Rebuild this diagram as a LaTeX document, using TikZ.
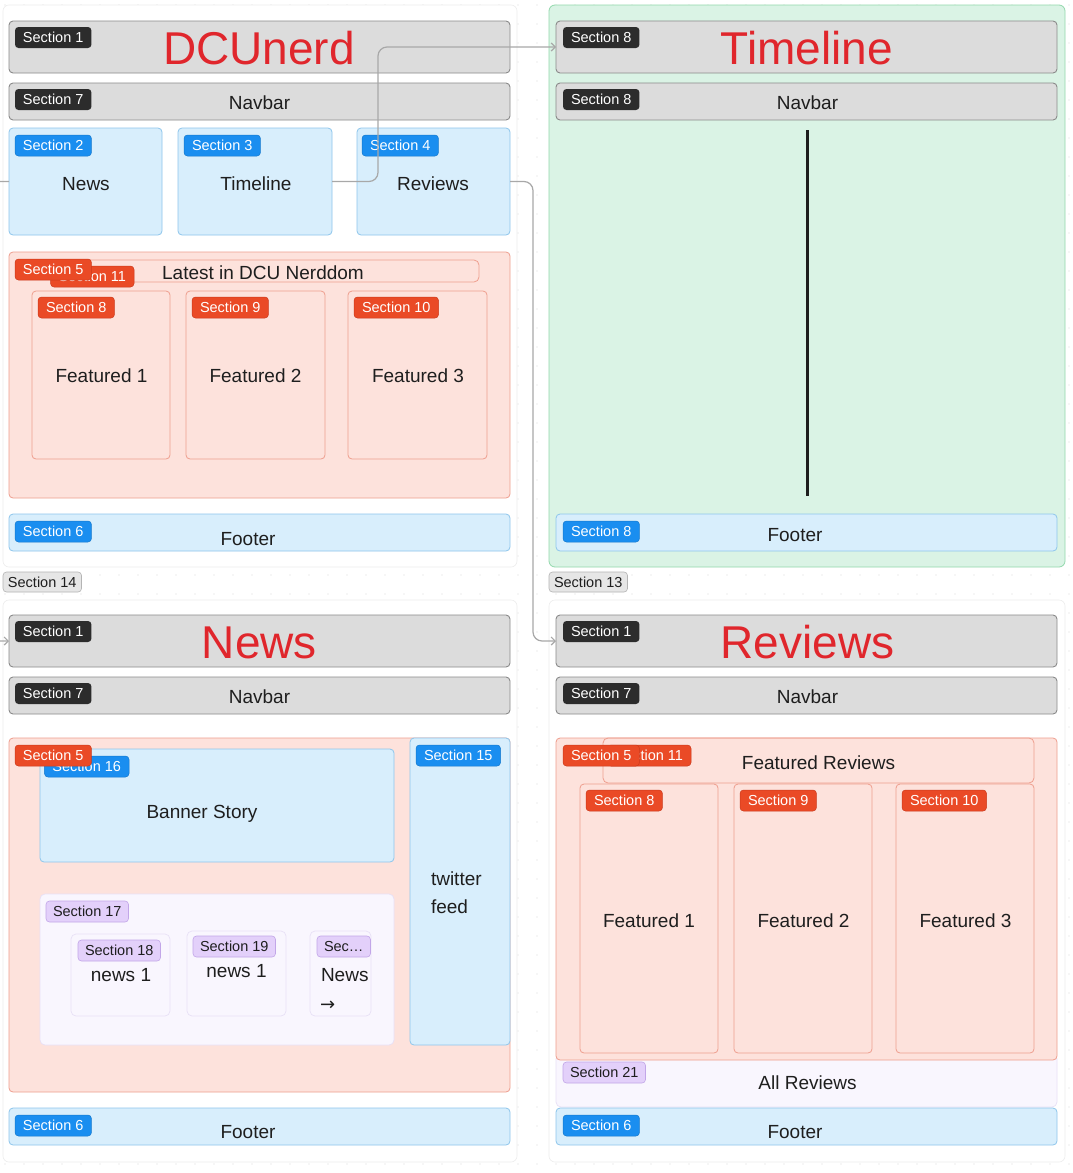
\documentclass[tikz,border=0pt]{standalone}
\usepackage{fontspec}
\setmainfont{Liberation Sans}
\newfontfamily\symfont{DejaVu Sans}
\usetikzlibrary{arrows.meta}
\definecolor{txt}{HTML}{1E1E1E}
\definecolor{ttl}{HTML}{E0262C}
\definecolor{hdrF}{HTML}{DCDCDC}
\definecolor{hdrB}{HTML}{8A8A8A}
\definecolor{tagD}{HTML}{2C2C2C}
\definecolor{bluF}{HTML}{D8EEFC}
\definecolor{bluB}{HTML}{8EC6EC}
\definecolor{tagBl}{HTML}{1A8EF0}
\definecolor{tagBlB}{HTML}{1578CC}
\definecolor{pnkF}{HTML}{FDE2DC}
\definecolor{pnkB}{HTML}{EE9E8E}
\definecolor{tagR}{HTML}{EA4A26}
\definecolor{tagRB}{HTML}{CC3A1C}
\definecolor{lavF}{HTML}{F9F6FE}
\definecolor{lavB}{HTML}{E8E0F6}
\definecolor{tagL}{HTML}{E3D0FA}
\definecolor{tagLB}{HTML}{C2A6E8}
\definecolor{grnF}{HTML}{DAF3E5}
\definecolor{grnB}{HTML}{92D8AC}
\definecolor{grayT}{HTML}{E6E6E6}
\definecolor{grayTB}{HTML}{B4B4B4}
\definecolor{pageB}{HTML}{EDEDED}
\definecolor{conG}{HTML}{A8A8A8}
\definecolor{dotC}{HTML}{DADADA}
\newcommand\bx[6]{\node[#2, anchor=north west, minimum width={(#5-#3)*1pt}, minimum height={(#6-#4)*1pt}] (#1) at (#3,#4) {};}
\begin{document}
\begin{tikzpicture}[x=1pt,y=-1pt,
  every node/.style={inner sep=0pt, outer sep=0pt},
  page/.style={draw=pageB, fill=white, rounded corners=6pt, line width=0.6pt},
  grnpage/.style={draw=grnB, fill=grnF, rounded corners=6pt, line width=0.8pt},
  hdr/.style={draw=hdrB, fill=hdrF, rounded corners=4pt, line width=0.9pt},
  bluebox/.style={draw=bluB, fill=bluF, rounded corners=4pt, line width=0.8pt},
  pinkbox/.style={draw=pnkB, fill=pnkF, rounded corners=4pt, line width=0.8pt},
  pinkline/.style={draw=pnkB, rounded corners=5pt, line width=0.8pt},
  lavbox/.style={draw=lavB, fill=lavF, rounded corners=5pt, line width=0.7pt},
  tag/.style={rounded corners=3.5pt, minimum height=21pt, inner xsep=8pt, font=\fontsize{14.5}{16}\selectfont},
  darktag/.style={tag, fill=tagD, text=white, anchor=north west},
  bluetag/.style={tag, fill=tagBl, draw=tagBlB, line width=0.5pt, text=white, anchor=north west},
  redtag/.style={tag, fill=tagR, draw=tagRB, line width=0.5pt, text=white, anchor=north west},
  lavtag/.style={tag, inner xsep=7pt, fill=tagL, draw=tagLB, line width=0.6pt, text=txt, anchor=north west},
  graytag/.style={tag, minimum height=20pt, inner xsep=5pt, fill=grayT, draw=grayTB, line width=0.6pt, text=txt, anchor=north west},
  lbl/.style={font=\fontsize{19}{22}\selectfont, text=txt, anchor=base},
  ttlbl/.style={font=\fontsize{46}{50}\selectfont, text=ttl, anchor=base},
  conn/.style={draw=conG, line width=1.2pt, rounded corners=9pt, -{Straight Barb[length=4pt,width=8pt]}}
]
\useasboundingbox (0,0) rectangle (1073,1173);
\fill[white] (0,0) rectangle (1073,1173);
% dot grid
\foreach \i in {0,...,56}{\foreach \j in {0,...,61}{\fill[dotC] (5+19*\i,5+19*\j) circle (0.6pt);}}

% ===== page frames =====
\bx{pgTL}{page}{3}{5}{517}{567}
\bx{pgTR}{grnpage}{549}{5}{1065}{567}
\bx{pgBL}{page}{3}{600}{517}{1162}
\bx{pgBR}{page}{549}{600}{1065}{1162}
\node[graytag] (tag14) at (3,572) {Section 14};
\node[graytag] (tag13) at (549,572) {Section 13};

% ===== top-left page: home =====
\bx{tlHead}{hdr}{9}{21}{510}{73}
\node[darktag] (tlHeadT) at (15,27) {Section 1};
\node[ttlbl] (tlTitle) at (259,64) {DCUnerd};
\bx{tlNav}{hdr}{9}{83}{510}{120}
\node[darktag] (tlNavT) at (15,89) {Section 7};
\node[lbl] (tlNavL) at (259.5,109) {Navbar};
\bx{tlNews}{bluebox}{9}{128}{162}{235}
\node[bluetag] (tlNewsT) at (15,135) {Section 2};
\node[lbl] (tlNewsL) at (86,190) {News};
\bx{tlTime}{bluebox}{178}{128}{332}{235}
\node[bluetag] (tlTimeT) at (184,135) {Section 3};
\node[lbl] (tlTimeL) at (256,190) {Timeline};
\bx{tlRev}{bluebox}{357}{128}{510}{235}
\node[bluetag] (tlRevT) at (362,135) {Section 4};
\node[lbl] (tlRevL) at (433,190) {Reviews};
\bx{tlMain}{pinkbox}{9}{252}{510}{498}
\bx{tlLatest}{pinkline}{53}{260}{479}{282}
\node[redtag, anchor=north east] (tlLatestT) at (134,266) {Section 11};
\node[redtag] (tlMainT) at (15,259) {Section 5};
\node[lbl] (tlLatestL) at (263,279) {Latest in DCU Nerddom};
\bx{tlF1}{pinkbox}{32}{291}{170}{459}
\node[redtag] (tlF1T) at (38,297) {Section 8};
\node[lbl] (tlF1L) at (101.5,382) {Featured 1};
\bx{tlF2}{pinkbox}{186}{291}{325}{459}
\node[redtag] (tlF2T) at (192,297) {Section 9};
\node[lbl] (tlF2L) at (255.5,382) {Featured 2};
\bx{tlF3}{pinkbox}{348}{291}{487}{459}
\node[redtag] (tlF3T) at (354,297) {Section 10};
\node[lbl] (tlF3L) at (418,382) {Featured 3};
\bx{tlFoot}{bluebox}{9}{514}{510}{551}
\node[bluetag] (tlFootT) at (15,521) {Section 6};
\node[lbl] (tlFootL) at (248,545) {Footer};

% ===== top-right page: timeline =====
\bx{trHead}{hdr}{556}{21}{1057}{73}
\node[darktag] (trHeadT) at (563,27) {Section 8};
\node[ttlbl] (trTitle) at (807,64) {Timeline};
\bx{trNav}{hdr}{556}{83}{1057}{120}
\node[darktag] (trNavT) at (563,89) {Section 8};
\node[lbl] (trNavL) at (807.5,109) {Navbar};
\draw[line width=3pt, txt] (807,130) -- (807,496);
\bx{trFoot}{bluebox}{556}{514}{1057}{551}
\node[bluetag] (trFootT) at (563,521) {Section 8};
\node[lbl] (trFootL) at (795,541) {Footer};

% ===== bottom-left page: news =====
\bx{blHead}{hdr}{9}{615}{510}{667}
\node[darktag] (blHeadT) at (15,621) {Section 1};
\node[ttlbl] (blTitle) at (259.5,658) {News};
\bx{blNav}{hdr}{9}{677}{510}{714}
\node[darktag] (blNavT) at (15,683) {Section 7};
\node[lbl] (blNavL) at (259.5,703) {Navbar};
\bx{blMain}{pinkbox}{9}{738}{510}{1092}
\bx{blBanner}{bluebox}{40}{749}{394}{862}
\node[bluetag, anchor=north east] (blBannerT) at (129,756) {Section 16};
\node[redtag] (blMainT) at (15,745) {Section 5};
\node[lbl] (blBannerL) at (202,818) {Banner Story};
\bx{blTwit}{bluebox}{410}{738}{510}{1045}
\node[bluetag] (blTwitT) at (416,745) {Section 15};
\node[font=\fontsize{19}{28}\selectfont, text=txt, anchor=base west] (blTwitL1) at (431,885) {twitter};
\node[font=\fontsize{19}{28}\selectfont, text=txt, anchor=base west] (blTwitL2) at (431,913) {feed};
\bx{blList}{lavbox}{40}{894}{394}{1045}
\node[lavtag] (blListT) at (46,901) {Section 17};
\bx{blN1}{lavbox}{71}{934}{170}{1016}
\node[lavtag] (blN1T) at (78,940) {Section 18};
\node[lbl] (blN1L) at (121,981) {news 1};
\bx{blN2}{lavbox}{187}{931}{286}{1016}
\node[lavtag] (blN2T) at (193,936) {Section 19};
\node[lbl] (blN2L) at (236.5,977.5) {news 1};
\bx{blN3}{lavbox}{310}{931}{371}{1016}
\node[lavtag] (blN3T) at (317,936) {Sec…};
\node[lbl, anchor=base west] (blN3L) at (321,981) {News};
\node[lbl, font=\symfont\fontsize{18}{22}\selectfont, anchor=base west] (blN3A) at (320,1010) {→};
\bx{blFoot}{bluebox}{9}{1108}{510}{1145}
\node[bluetag] (blFootT) at (15,1115) {Section 6};
\node[lbl] (blFootL) at (248,1138) {Footer};

% ===== bottom-right page: reviews =====
\bx{brHead}{hdr}{556}{615}{1057}{667}
\node[darktag] (brHeadT) at (563,621) {Section 1};
\node[ttlbl] (brTitle) at (807.5,658) {Reviews};
\bx{brNav}{hdr}{556}{677}{1057}{714}
\node[darktag] (brNavT) at (563,683) {Section 7};
\node[lbl] (brNavL) at (807.5,703) {Navbar};
\bx{brAll}{lavbox}{556}{1054}{1057}{1107}
\bx{brMain}{pinkbox}{556}{738}{1057}{1060}
\node[lavtag] (brAllT) at (563,1062) {Section 21};
\node[lbl] (brAllL) at (807.5,1089) {All Reviews};
\bx{brFR}{pinkline}{603}{738}{1034}{783}
\node[redtag, anchor=north east] (brFRT) at (691,745) {Section 11};
\node[redtag] (brMainT) at (563,745) {Section 5};
\node[lbl] (brFRL) at (818.5,769) {Featured Reviews};
\bx{brF1}{pinkbox}{580}{784}{718}{1053}
\node[redtag] (brF1T) at (586,790) {Section 8};
\node[lbl] (brF1L) at (649,927) {Featured 1};
\bx{brF2}{pinkbox}{734}{784}{872}{1053}
\node[redtag] (brF2T) at (740,790) {Section 9};
\node[lbl] (brF2L) at (803.5,927) {Featured 2};
\bx{brF3}{pinkbox}{896}{784}{1034}{1053}
\node[redtag] (brF3T) at (902,790) {Section 10};
\node[lbl] (brF3L) at (965.5,927) {Featured 3};
\bx{brFoot}{bluebox}{556}{1108}{1057}{1145}
\node[bluetag] (brFootT) at (563,1115) {Section 6};
\node[lbl] (brFootL) at (795,1138) {Footer};

% ===== connectors =====
\draw[conn] (tlTime.east) -| (378,47) -- (trHead.west);
\draw[conn] (tlRev.east) -| (533,641) -- (brHead.west);
\draw[conn] (tlNews.west) -| (-12,641) -- (blHead.west);
\end{tikzpicture}
\end{document}
